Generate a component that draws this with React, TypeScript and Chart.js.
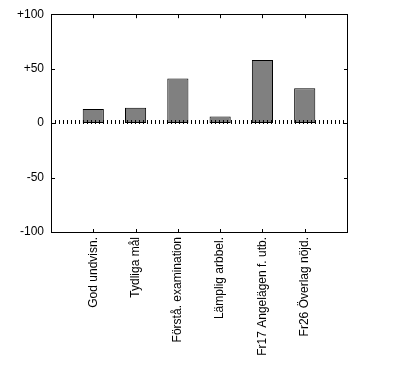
import React, { useEffect, useRef } from "react";
import { Chart, registerables } from "chart.js";

Chart.register(...registerables);

const categories = [
  "",
  "God undvisn.",
  "Tydliga mål",
  "Förstå. examination",
  "Lämplig arbbel.",
  "Fr17 Angelägen f. utb.",
  "Fr26 Överlag nöjd.",
  "",
];
const values: (number | null)[] = [null, 13, 14, 41, 6, 58, 32, null];
const yTicks = [-100, -50, 0, 50, 100];

const framePlugin = {
  id: "frame",
  afterDatasetsDraw(chart: any) {
    const { ctx, chartArea, scales } = chart;
    const { left, right, top, bottom } = chartArea;
    const x = scales.x;
    const y = scales.y;
    ctx.save();
    ctx.strokeStyle = "#000";
    ctx.lineWidth = 1;
    ctx.strokeRect(Math.round(left) + 0.5, Math.round(top) + 0.5, Math.round(right - left), Math.round(bottom - top));
    ctx.beginPath();
    yTicks.forEach((v) => {
      const py = Math.round(y.getPixelForValue(v)) + 0.5;
      ctx.moveTo(left, py);
      ctx.lineTo(left + 4, py);
      ctx.moveTo(right - 3, py);
      ctx.lineTo(right + 1, py);
    });
    for (let i = 1; i < categories.length - 1; i++) {
      const px = Math.round(x.getPixelForValue(i)) + 0.5;
      ctx.moveTo(px, top);
      ctx.lineTo(px, top + 4);
      ctx.moveTo(px, bottom + 1);
      ctx.lineTo(px, bottom - 3);
    }
    ctx.stroke();
    const zy = Math.round(y.getPixelForValue(0));
    ctx.beginPath();
    ctx.setLineDash([1, 3]);
    ctx.lineWidth = 4;
    ctx.moveTo(left + 4, zy - 1);
    ctx.lineTo(right, zy - 1);
    ctx.stroke();
    ctx.restore();
  },
};

export default function App() {
  const ref = useRef<HTMLCanvasElement>(null);
  useEffect(() => {
    document.body.style.margin = "0";
    const chart = new Chart(ref.current!, {
      type: "bar",
      data: {
        labels: categories,
        datasets: [
          {
            data: values,
            backgroundColor: "#808080",
            borderColor: "#000",
            borderWidth: 1,
            borderSkipped: false,
            barPercentage: 0.5,
            categoryPercentage: 1,
          },
        ],
      },
      options: {
        responsive: false,
        animation: false,
        layout: { padding: { top: 13, right: 48, left: 0, bottom: 0 } },
        plugins: { legend: { display: false }, tooltip: { enabled: false } },
        scales: {
          x: {
            type: "category",
            offset: false,
            grid: { display: false, drawTicks: false },
            border: { display: false },
            afterFit(scale: any) {
              scale.height = 134;
            },
            ticks: {
              autoSkip: false,
              minRotation: 90,
              maxRotation: 90,
              padding: 5,
              color: "#000",
              font: { family: "Arial, 'Liberation Sans', sans-serif", size: 12 },
            },
          },
          y: {
            min: -100,
            max: 100,
            grid: { display: false, drawTicks: false },
            border: { display: false },
            afterFit(scale: any) {
              scale.width = 51;
            },
            afterBuildTicks(scale: any) {
              scale.ticks = yTicks.map((v) => ({ value: v }));
            },
            ticks: {
              padding: 7,
              color: "#000",
              font: { family: "Arial, 'Liberation Sans', sans-serif", size: 12 },
              callback: (v: any) => (Number(v) > 0 ? "+" + v : String(v)),
            },
          },
        },
      },
      plugins: [framePlugin],
    });
    return () => chart.destroy();
  }, []);
  return <canvas ref={ref} width={395} height={366} />;
}
